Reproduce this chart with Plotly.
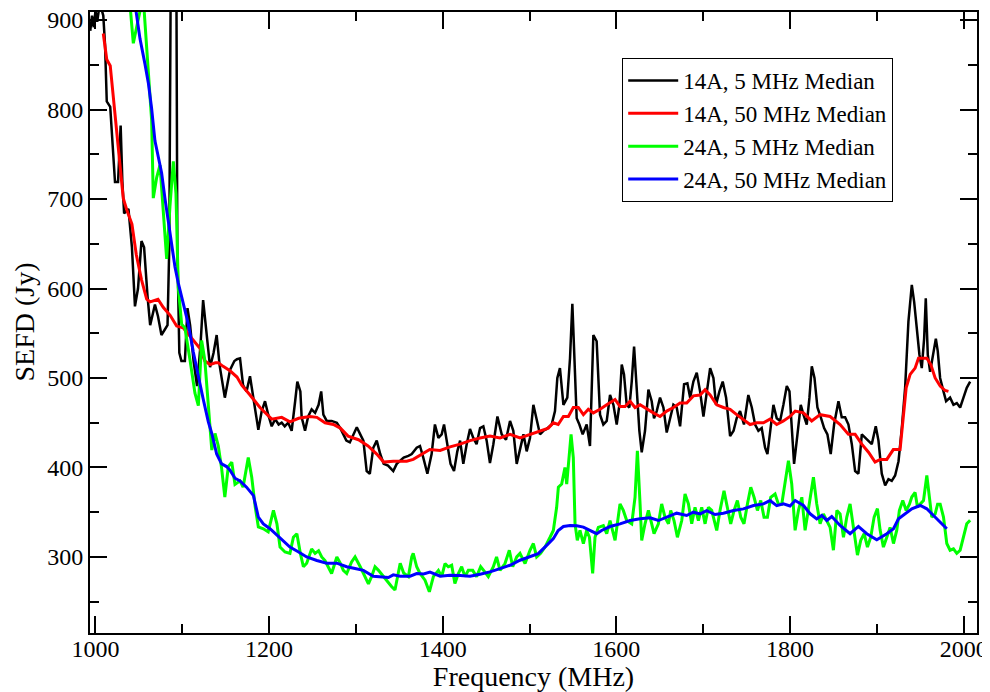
import plotly.graph_objects as go

# 14A, 5 MHz median
freq_14a_5 = [994, 996, 998, 1000, 1002, 1004, 1007, 1009, 1011, 1013, 1017, 1022.5, 1026, 1029, 1031, 1033, 1038, 1042, 1045.5, 1049,
              1053, 1056, 1060, 1063, 1068.5, 1072, 1076, 1080, 1083, 1085, 1087, 1093, 1094.3, 1096.6, 1099, 1103, 1106, 1109, 1113, 1117,
              1121, 1124, 1127, 1132, 1136, 1139.6, 1143, 1149, 1155, 1160, 1163, 1166.5, 1170, 1174, 1178, 1182, 1187.6, 1191.5, 1195.3, 1199,
              1203, 1207, 1211, 1214.5, 1218, 1222, 1226, 1230, 1232.5, 1236, 1237.5, 1241.4, 1245, 1249, 1253, 1257, 1260, 1262.5, 1266.4, 1272,
              1278, 1282, 1285.5, 1289, 1293, 1297, 1301, 1305, 1308.6, 1312.4, 1316, 1320, 1324, 1328, 1332, 1337, 1343, 1347, 1355, 1360.4,
              1364.3, 1370, 1373.8, 1377.6, 1382.3, 1387.2, 1391, 1395, 1398.8, 1401.5, 1405.3, 1409, 1413, 1416.8, 1420, 1423.7, 1427.6, 1431.4, 1435.2, 1439,
              1443, 1446.8, 1450.6, 1454.4, 1458.3, 1463, 1467.9, 1472.9, 1477.5, 1481.3, 1485.2, 1489, 1493, 1496.7, 1500.5, 1504.4, 1508.2, 1512, 1516, 1519.7,
              1525.5, 1529.3, 1532, 1535, 1539, 1543.5, 1546.6, 1549.3, 1552.4, 1554.3, 1557.4, 1561.2, 1565.8, 1569.6, 1573.5, 1577.3, 1581.2, 1585, 1588.9, 1592.7,
              1596.6, 1600.4, 1603.5, 1606.2, 1608.8, 1611.9, 1615, 1617.7, 1620.4, 1623.4, 1626.5, 1629.2, 1633, 1636.9, 1640.7, 1643.4, 1646.5, 1650.3, 1654.2, 1658,
              1661.8, 1665.7, 1669.5, 1673.4, 1678, 1681.8, 1685, 1688.7, 1692.6, 1696.4, 1700.3, 1704, 1708, 1711.8, 1714.8, 1718.7, 1722.5, 1726.4, 1731, 1735,
              1738.6, 1742.5, 1747, 1752, 1756, 1759.8, 1763.6, 1767.4, 1771.3, 1774, 1777, 1780.9, 1784.7, 1788.6, 1792.4, 1796.3, 1799.4, 1802, 1804.7, 1808.6,
              1812.4, 1815.5, 1819.3, 1822.4, 1825.1, 1828.2, 1831.6, 1835.5, 1839.3, 1843.1, 1846.9, 1850.8, 1855.8, 1859.6, 1863.5, 1867.3, 1871.2, 1875, 1878.8, 1882.7,
              1886.5, 1890.4, 1894.2, 1898.8, 1901.9, 1905.7, 1909.6, 1913.4, 1917.2, 1921.1, 1925, 1928.8, 1932.6, 1936.4, 1940.3, 1943, 1946, 1949.1, 1951.8, 1954.5,
              1956.4, 1958.7, 1961.4, 1965.2, 1968, 1970.2, 1972.9, 1976.8, 1979.8, 1984.4, 1988.3, 1992.1, 1996, 1999.8, 2003.6, 2007.5]
sefd_14a_5 = [888, 905, 892, 910, 898, 912, 912, 905, 873, 809, 803, 719, 719, 782, 719, 684, 689, 646, 580, 600,
              653, 646, 591, 559, 582, 569, 548, 555, 559, 646, 1000, 1000, 646, 528, 519, 519, 578, 559, 519, 491,
              537, 587, 559, 512, 528, 548, 514, 478, 509, 519, 521, 522, 492, 485, 502, 478, 442, 463, 474, 459,
              446, 454, 448, 450, 446, 450, 441, 474, 496, 485, 456, 441, 457, 465, 461, 470, 485, 459, 452, 452,
              450, 444, 437, 430, 428, 437, 445, 437, 430, 396, 393, 422, 430, 415, 404, 402, 396, 404, 411, 413,
              415, 422, 424, 411, 393, 415, 448, 433, 437, 448, 426, 404, 396, 418, 430, 404, 426, 443, 433, 426,
              444, 446, 430, 405, 426, 457, 437, 431, 452, 441, 404, 422, 437, 418, 433, 470, 452, 437, 441, 443,
              448, 463, 500, 511, 470, 478, 522, 583, 504, 455, 448, 437, 448, 424, 548, 541, 459, 448, 452, 481,
              470, 448, 470, 515, 504, 470, 467, 496, 535, 489, 441, 417, 441, 487, 474, 455, 463, 478, 467, 439,
              455, 470, 467, 446, 493, 494, 478, 496, 506, 485, 457, 485, 511, 500, 470, 485, 496, 478, 435, 441,
              455, 463, 448, 481, 467, 448, 441, 444, 422, 415, 441, 470, 455, 452, 470, 491, 485, 448, 404, 437,
              470, 459, 448, 478, 513, 500, 467, 456, 444, 437, 415, 448, 474, 456, 456, 448, 426, 396, 393, 437,
              433, 430, 426, 446, 430, 393, 380, 387, 385, 391, 407, 444, 489, 563, 604, 585, 556, 526, 511, 544,
              589, 526, 507, 526, 544, 530, 500, 485, 474, 478, 470, 472, 467, 478, 489, 496]

# 14A, 50 MHz median
freq_14a_50 = [1009, 1013, 1017, 1022.5, 1028, 1032, 1036, 1042, 1047, 1053, 1059, 1063, 1072, 1078, 1086, 1093.5, 1101, 1109, 1117, 1120.5,
               1126, 1132, 1138, 1141.5, 1147, 1155, 1163, 1168.5, 1178, 1189.5, 1203, 1214.5, 1224, 1234, 1247, 1255, 1264.4, 1274, 1282, 1291,
               1303, 1314, 1324, 1332, 1343, 1358.5, 1366, 1376, 1385, 1397, 1408.4, 1420, 1431.4, 1443, 1454.4, 1466, 1477.5, 1489, 1500.5, 1512,
               1521.6, 1527.4, 1533, 1539, 1544.7, 1550.4, 1556.2, 1562, 1567.7, 1573.5, 1581.2, 1588.9, 1598.5, 1604.2, 1610, 1615.8, 1621.5, 1627.3, 1635, 1642.6,
               1650.3, 1658, 1665.7, 1673.4, 1681, 1688.7, 1696.4, 1702.2, 1708, 1715.6, 1723.3, 1731, 1738.6, 1746.3, 1754, 1761.7, 1769.4, 1777, 1784.7, 1792.4,
               1800, 1806, 1815.5, 1825, 1834.7, 1846.2, 1857.7, 1867.3, 1875, 1882.7, 1890.4, 1898, 1903.8, 1911.5, 1919, 1926.8, 1930.7, 1933.8, 1938.4, 1944.1,
               1948, 1957.6, 1962.2, 1967.2, 1973, 1978.7, 1982.5]
sefd_14a_50 = [885, 856, 849, 797, 742, 701, 688, 672, 638, 610, 588, 585, 588, 579, 570, 558, 556, 547, 538, 533,
               519, 515, 517, 517, 513, 508, 501, 492, 481, 467, 454, 456, 451, 455, 457, 456, 450, 448, 444, 435,
               431, 424, 415, 406, 407, 407, 409, 415, 420, 419, 423, 426, 430, 433, 435, 433, 437, 433, 437, 441,
               444, 450, 448, 457, 457, 467, 467, 459, 465, 461, 465, 470, 476, 468, 468, 474, 467, 470, 465, 461,
               457, 463, 467, 472, 472, 480, 481, 487, 481, 470, 467, 465, 459, 453, 448, 450, 450, 454, 448, 452,
               457, 463, 461, 452, 459, 457, 448, 437, 437, 426, 417, 406, 409, 409, 420, 420, 463, 489, 504, 511,
               522, 522, 515, 500, 491, 486, 485]

# 24A, 5 MHz median
freq_24a_5 = [1036, 1040, 1043.6, 1047.4, 1051.3, 1054, 1057, 1061, 1064.7, 1066.6, 1070.5, 1074.3, 1078, 1082, 1085.8, 1089.7, 1092.7, 1095.4, 1099.3, 1103,
              1109, 1114.6, 1118.5, 1122.3, 1126, 1130, 1134, 1137.7, 1141.5, 1145.3, 1149, 1153, 1157, 1160.7, 1166.5, 1170, 1176, 1180, 1184, 1187.6,
              1193.4, 1199, 1205, 1209, 1212.6, 1218.3, 1224, 1228, 1232, 1236, 1239.5, 1243.3, 1249, 1253, 1257, 1260.6, 1264.4, 1268, 1272, 1278,
              1282, 1285.5, 1289.4, 1295, 1299, 1305, 1310.5, 1314.4, 1318, 1322, 1326, 1330, 1335.5, 1341, 1345, 1349, 1351, 1355, 1360.4, 1364.3,
              1366, 1370, 1373.8, 1379.6, 1384.6, 1389.2, 1395, 1398.8, 1402.6, 1406.4, 1410.3, 1414, 1418, 1421.8, 1425.6, 1429.5, 1434.5, 1439, 1443.7, 1448.7,
              1452.5, 1458.3, 1462, 1466, 1471.7, 1476.7, 1480.6, 1485.2, 1489, 1494.8, 1500.5, 1504.4, 1508.2, 1512.8, 1517.8, 1523.6, 1527.4, 1531.2, 1533.2, 1537,
              1540.8, 1542.8, 1545.5, 1547.8, 1550.4, 1552.4, 1555, 1558.1, 1562, 1565.8, 1569, 1572.7, 1575.4, 1579.2, 1585, 1588.9, 1592.7, 1598.5, 1604.2, 1608,
              1611.9, 1617.7, 1621.5, 1624.2, 1627.3, 1629.2, 1633, 1636.9, 1640.7, 1643.4, 1648.4, 1652.2, 1656, 1660, 1662.6, 1666.4, 1670.3, 1675.3, 1679.1, 1683,
              1686.8, 1690.6, 1694.5, 1698.3, 1702.2, 1706, 1709.8, 1715.6, 1719.4, 1724, 1727, 1731.7, 1735.6, 1739.4, 1743.3, 1747, 1751, 1754.8, 1758.6, 1762.5,
              1766.3, 1770.1, 1774, 1777.8, 1782.8, 1786.6, 1790.5, 1795.5, 1798.2, 1802, 1805.9, 1809.7, 1813.6, 1817.4, 1821.2, 1827, 1830.8, 1834.7, 1838.5, 1842.4,
              1846.2, 1850, 1854, 1857.7, 1861.6, 1865.4, 1869.2, 1873, 1877.7, 1881.5, 1885.4, 1889.2, 1893, 1896.9, 1900.7, 1903.8, 1907.6, 1911.5, 1915.3, 1919.2,
              1923, 1926, 1929.9, 1933.8, 1937.6, 1940.3, 1944.1, 1946.8, 1950, 1953.8, 1957.6, 1960.6, 1963.3, 1967.2, 1970, 1973, 1976.8, 1980.6, 1984.4, 1988.3,
              1992.1, 1996, 1999.8, 2003.6, 2007.5]
sefd_24a_5 = [960, 915, 874, 892, 910, 940, 895, 840, 788, 701, 724, 738, 683, 633, 692, 742, 706, 601, 560, 556,
              519.5, 483, 469, 542, 519.5, 465, 419.5, 438, 424, 399, 367, 401, 406, 381, 385, 378, 411, 389, 356, 333.5,
              331.5, 328, 352, 337, 311, 305.5, 304, 322, 326, 304, 289, 293, 309, 304, 307, 300, 296, 289, 281.5, 300,
              293, 285, 281.5, 294.5, 300, 289, 278, 270, 278, 289, 285, 280, 274, 267, 263, 285, 293, 282, 278, 300,
              304, 289, 281.5, 274, 261, 278, 285, 278, 292.6, 289, 290.7, 270.4, 281.5, 289, 278, 285, 285, 278, 289, 283,
              278, 289, 300, 285, 292.6, 307.4, 289, 300, 304, 292.6, 307.4, 315, 300, 304, 311, 322, 329.6, 355.5, 378, 381.5,
              400, 381.5, 411, 437, 411, 337, 318.5, 329.6, 315, 329.6, 322, 281.5, 322, 333, 335, 326, 340.7, 318.5, 359.3, 352,
              340.7, 337, 366.7, 418.5, 359.3, 318.5, 337, 352, 337, 326, 337, 359.3, 344.4, 337, 352, 340.7, 322, 340.7, 370.4, 359.3,
              337, 355.5, 340.7, 355.5, 337, 355.5, 352, 329.6, 352, 374, 359.3, 337, 352, 363, 344.4, 337, 359.3, 377.8, 366.7, 352,
              363, 344.4, 344.4, 366.7, 370.4, 359.3, 359, 389, 407.5, 381.5, 329.7, 352, 366.7, 329.7, 352, 389, 359.3, 337, 348, 341,
              333, 307.5, 352, 348, 322, 344.5, 359.3, 333.4, 302, 318.6, 326, 311, 322, 344.5, 354, 330, 311, 322, 333, 315,
              330, 352, 363, 352, 359, 367, 372, 356, 359, 363, 391, 367, 344.5, 348, 359, 359, 344.5, 315, 307.5, 309,
              304, 307.5, 322, 337, 341]

# 24A, 50 MHz median
freq_24a_50 = [1046, 1047.4, 1051.3, 1057, 1061, 1064.7, 1068.5, 1072.4, 1076.2, 1080, 1084, 1087.7, 1091.6, 1095.4, 1101, 1107, 1112.7, 1118.5, 1124.2, 1130,
               1134, 1139.6, 1145.3, 1151, 1155, 1160.7, 1166.5, 1174, 1182, 1187.6, 1193.4, 1201, 1209, 1216.4, 1224, 1234, 1243.3, 1255, 1266.4, 1278,
               1289.4, 1299, 1308.6, 1320, 1332, 1337.4, 1343, 1351, 1362.4, 1370, 1378, 1385.3, 1397, 1408.4, 1420, 1431.4, 1443, 1454.4, 1466, 1477.5,
               1489, 1500.5, 1510, 1519.7, 1527.4, 1533, 1539, 1546.6, 1554.3, 1562, 1569.6, 1577.3, 1583, 1592.7, 1604.2, 1615.8, 1627.3, 1638.8, 1648.4, 1658,
               1669.5, 1681, 1688.7, 1696.4, 1704, 1713.7, 1723.3, 1735, 1746.3, 1758, 1769.4, 1777, 1784.7, 1792.4, 1800, 1806, 1815.5, 1823.2, 1830.8, 1836.6,
               1842.4, 1848.1, 1857.7, 1869.2, 1878.8, 1888.4, 1900, 1911.5, 1919.2, 1925, 1932.6, 1940.3, 1950, 1957.6, 1965.3, 1973, 1980.6]
sefd_24a_50 = [915, 906, 879, 851, 829, 801, 765, 747, 729, 701, 674, 647, 624, 606, 583, 560, 529, 501, 476, 451,
               438, 415, 404, 401, 397, 388, 385, 378, 368.5, 344.5, 337, 331.5, 324, 317, 311, 305.5, 300, 296, 293, 293,
               289, 287, 285, 278.5, 278, 277, 280, 278.5, 278.5, 281.5, 281, 283, 278.5, 279.6, 279.2, 278.5, 280.7, 283.3, 287, 290.7,
               296.3, 300, 303.7, 313, 320.4, 329.6, 334, 335.2, 334.8, 333.3, 329.6, 326, 329.6, 334, 337, 340.7, 342.6, 343.7, 340.7, 344.4,
               348.9, 346.3, 350, 348.1, 351.8, 347.4, 348.9, 351.8, 353.7, 357.4, 359.3, 363, 357.4, 359.3, 357, 363, 357.5, 348.2, 342.6, 346.3,
               340.8, 345.2, 335.2, 326, 334.1, 326, 319.3, 326, 331.5, 342.6, 348.2, 353.8, 357.5, 353.8, 346.3, 339, 331.5]

series = [
    ("14A, 5 MHz Median", freq_14a_5, sefd_14a_5, "#000000", 2.5),
    ("14A, 50 MHz Median", freq_14a_50, sefd_14a_50, "#ff0000", 3),
    ("24A, 5 MHz Median", freq_24a_5, sefd_24a_5, "#00ff00", 3),
    ("24A, 50 MHz Median", freq_24a_50, sefd_24a_50, "#0000ff", 3),
]

fig = go.Figure()
for name, fx, fy, col, w in series:
    fig.add_trace(go.Scatter(x=fx, y=fy, mode="lines", name=name,
                             line=dict(color=col, width=w)))

font_family = "Liberation Serif, Times New Roman, serif"
axis_common = dict(
    showline=True, linecolor="black", linewidth=2, mirror="allticks",
    ticks="inside", ticklen=17, tickwidth=1.5, tickcolor="black",
    showgrid=False, zeroline=False, automargin=False, ticklabeloverflow="allow",
    tickfont=dict(family=font_family, size=24, color="black"),
)

# the page body adds an 8 px offset, so the figure is 982x684 placed at (8, 8)
fig.update_layout(
    width=982, height=684,
    margin=dict(l=82, r=13, t=4, b=59, autoexpand=False),
    paper_bgcolor="white", plot_bgcolor="white",
    font=dict(family=font_family, color="black"),
    showlegend=True,
    legend=dict(x=0.6, y=0.926, xanchor="left", yanchor="top",
                bgcolor="white", bordercolor="black", borderwidth=1,
                font=dict(family=font_family, size=23, color="black"),
                tracegroupgap=0, itemwidth=50),
    xaxis=dict(range=[993.7, 2015.4], tick0=0, dtick=200,
               minor=dict(dtick=100, ticklen=9, tickwidth=1.5, tickcolor="black", ticks="inside"),
               ticklabelstandoff=-7,
               title=dict(text="Frequency (MHz)", font=dict(family=font_family, size=28), standoff=8),
               **axis_common),
    yaxis=dict(range=[215, 909], tick0=0, dtick=100,
               minor=dict(dtick=50, ticklen=9, tickwidth=1.5, tickcolor="black", ticks="inside"),
               **axis_common),
    annotations=[dict(text="SEFD (Jy)", textangle=-90, xref="paper", yref="paper",
                      x=-0.0744, y=0.5, xanchor="center", yanchor="middle", showarrow=False,
                      font=dict(family=font_family, size=28, color="black"))],
)

fig.write_html("out.html")
